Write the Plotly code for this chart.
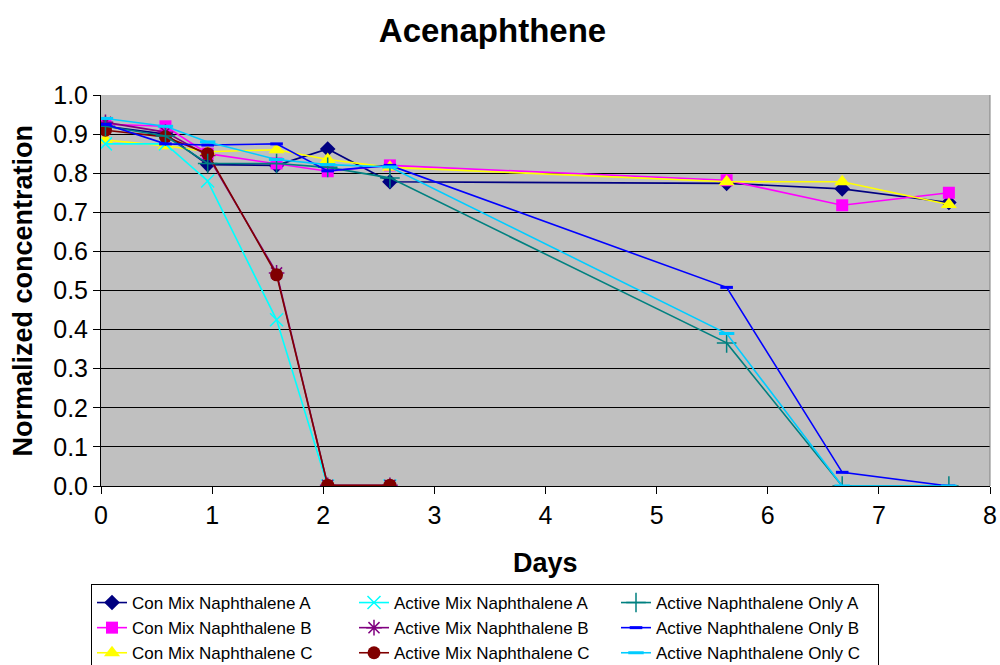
import plotly.graph_objects as go

# Sampling times (days)
days = [0.04, 0.58, 0.96, 1.58, 2.04, 2.6, 5.63, 6.67, 7.63]
days_mix = [0.04, 0.58, 0.96, 1.58, 2.04, 2.6]

# Normalized acenaphthene concentration per reactor
con_mix_a = [0.92, 0.90, 0.822, 0.82, 0.862, 0.778, 0.774, 0.76, 0.725]
con_mix_b = [0.925, 0.92, 0.85, 0.825, 0.805, 0.82, 0.782, 0.718, 0.75]
con_mix_c = [0.885, 0.87, 0.855, 0.86, 0.835, 0.815, 0.778, 0.778, 0.72]
act_mix_a = [0.875, 0.875, 0.78, 0.425, 0.0, 0.0]
act_mix_b = [0.93, 0.905, 0.845, 0.545, 0.002, 0.002]
act_mix_c = [0.91, 0.893, 0.85, 0.54, 0.002, 0.002]
act_only_a = [0.92, 0.895, 0.825, 0.825, 0.815, 0.788, 0.366, 0.0, 0.0]
act_only_b = [0.925, 0.875, 0.872, 0.875, 0.806, 0.82, 0.508, 0.035, 0.0]
act_only_c = [0.94, 0.92, 0.88, 0.835, 0.822, 0.816, 0.39, 0.0, 0.0]

x_ticks = [0, 1, 2, 3, 4, 5, 6, 7, 8]
y_ticks = [0.0, 0.1, 0.2, 0.3, 0.4, 0.5, 0.6, 0.7, 0.8, 0.9, 1.0]

# name, x, y, line colour, marker symbol, marker size, filled?, legend rank
series = [
    ("Con Mix Naphthalene A", days, con_mix_a, "#000080", "diamond", 12, True, 1),
    ("Con Mix Naphthalene B", days, con_mix_b, "#FF00FF", "square", 12, True, 4),
    ("Con Mix Naphthalene C", days, con_mix_c, "#FFFF00", "triangle-up", 14, True, 7),
    ("Active Mix Naphthalene A", days_mix, act_mix_a, "#00FFFF", "x-thin", 13, False, 2),
    ("Active Mix Naphthalene B", days_mix, act_mix_b, "#800080", "asterisk", 13, False, 5),
    ("Active Mix Naphthalene C", days_mix, act_mix_c, "#800000", "circle", 13, True, 8),
    ("Active Naphthalene Only A", days, act_only_a, "#008080", "cross-thin", 14, False, 3),
    ("Active Naphthalene Only B", days, act_only_b, "#0000FF", "line-ew", 9, False, 6),
    ("Active Naphthalene Only C", days, act_only_c, "#00CCFF", "line-ew", 11, False, 9),
]

fig = go.Figure()
for name, xs, ys, color, symbol, size, filled, rank in series:
    if filled:
        marker = dict(symbol=symbol, size=size, color=color, line=dict(width=0))
    else:
        marker = dict(symbol=symbol, size=size, color=color,
                      line=dict(width=3 if symbol == "line-ew" else 1.5, color=color))
    fig.add_trace(go.Scatter(
        x=xs, y=ys, name=name, mode="lines+markers",
        line=dict(color=color, width=1.6),
        marker=marker, legendrank=rank,
    ))

fig.update_layout(
    width=1000, height=665,
    margin=dict(l=101, r=10, t=95, b=179, autoexpand=False),
    paper_bgcolor="white",
    plot_bgcolor="#C0C0C0",
    font=dict(family="Arial, Liberation Sans, sans-serif", color="black"),
    title=dict(text="<b>Acenaphthene</b>", font=dict(size=33, color="black"),
               x=0.4925, xref="container", xanchor="center",
               y=1 - 30 / 665, yref="container", yanchor="middle"),
    showlegend=True,
    legend=dict(
        orientation="h", x=(91 - 101) / 889, xanchor="left",
        y=(486 - 584) / 391, yanchor="top",
        entrywidth=217, entrywidthmode="pixels",
        bgcolor="white", bordercolor="black", borderwidth=1,
        font=dict(size=17, color="black"), traceorder="normal",
    ),
    xaxis=dict(
        range=[0, 8], tickvals=x_ticks, ticks="outside", ticklen=7,
        tickcolor="black", showline=True, linecolor="black", linewidth=1,
        showgrid=False, zeroline=False, tickfont=dict(size=25),
    ),
    yaxis=dict(
        range=[0, 1], tickvals=y_ticks, tickformat=".1f", ticks="outside",
        ticklen=7, tickcolor="black", showline=True, linecolor="black",
        linewidth=1, showgrid=True, gridcolor="black", gridwidth=1,
        zeroline=False, tickfont=dict(size=25),
    ),
    annotations=[
        dict(text="<b>Days</b>", xref="paper", yref="paper",
             x=0.5, y=(486 - 563) / 391, xanchor="center", yanchor="middle",
             showarrow=False, font=dict(size=27)),
        dict(text="<b>Normalized concentration</b>", xref="paper", yref="paper",
             x=(22 - 101) / 889, y=0.5, xanchor="center", yanchor="middle",
             textangle=-90, showarrow=False, font=dict(size=27)),
    ],
    shapes=[
        dict(type="line", xref="paper", yref="paper", x0=1, x1=1, y0=0, y1=1,
             line=dict(color="#808080", width=1)),
    ],
)

fig.write_html("out.html")
